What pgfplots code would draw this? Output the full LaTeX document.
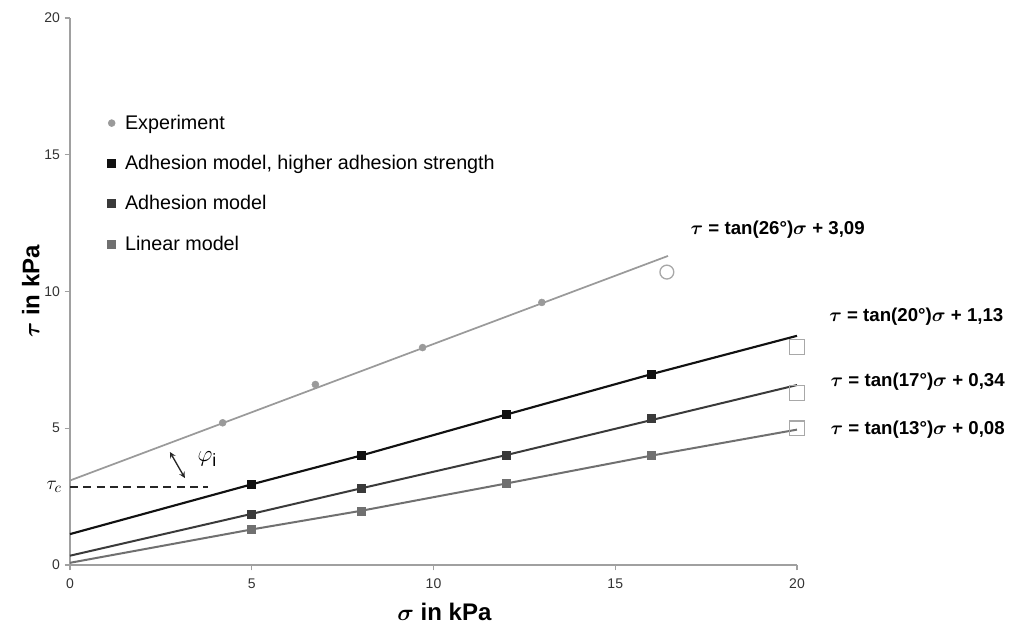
\documentclass[border=0pt]{standalone}
\usepackage{amsmath}
\usepackage{fontspec}
\setmainfont{Liberation Sans}
\usepackage{pgfplots}
\pgfplotsset{compat=1.18}
\definecolor{expgray}{HTML}{9A9A9A}
\definecolor{hiblack}{HTML}{111111}
\definecolor{adgray}{HTML}{3A3A3A}
\definecolor{lingray}{HTML}{707070}
\definecolor{axgray}{HTML}{A0A0A0}
\definecolor{opengray}{HTML}{A8A8A8}
\begin{document}
\begin{tikzpicture}
\begin{axis}[
  scale only axis, width=545.25pt, height=410.25pt,
  xmin=0, xmax=20, ymin=0, ymax=20,
  axis x line=bottom, axis y line=left,
  axis line style={draw=axgray, line width=1.5pt},
  every outer x axis line/.append style={-},
  every outer y axis line/.append style={-},
  xtick={0,5,10,15,20}, ytick={0,5,10,15,20},
  tick align=outside, major tick length=4pt,
  tick style={draw=axgray, line width=1pt},
  ticklabel style={font=\fontsize{10.5}{12}\selectfont, text=black!80},
  xticklabel style={yshift=-3pt},
  /pgf/number format/assume math mode=true,
  clip=false,
  xlabel={$\boldsymbol{\sigma}$ in kPa},
  ylabel={$\boldsymbol{\tau}$ in kPa},
  xlabel style={font=\bfseries\fontsize{18}{21}\selectfont, at={(axis description cs:0.515,-0.086)}, anchor=center},
  ylabel style={font=\bfseries\fontsize{18}{21}\selectfont, at={(axis description cs:-0.054,0.5)}, anchor=center},
  legend cell align=left,
  legend style={draw=none, fill=none, at={(0.046,0.833)}, anchor=north west,
    font=\fontsize{14.8}{17}\selectfont, row sep=14pt},
]
\addplot[expgray, line width=1.3pt, forget plot] coordinates {(0,3.09) (16.45,11.3)};
\addplot[hiblack, line width=1.6pt, forget plot] coordinates {(0,1.13) (5,2.95) (8,4.0) (12,5.5) (16,6.98) (20,8.38)};
\addplot[adgray, line width=1.5pt, forget plot] coordinates {(0,0.34) (5,1.87) (8,2.8) (12,4.02) (16,5.3) (20,6.58)};
\addplot[lingray, line width=1.5pt, forget plot] coordinates {(0,0.08) (5,1.3) (8,1.98) (12,2.98) (16,4.0) (20,4.95)};
\addplot[black!85, line width=1.3pt, dash pattern=on 6pt off 4pt, forget plot] coordinates {(0,2.85) (3.8,2.85)};
\addplot[only marks, mark=*, mark size=2.6pt, color=expgray, mark options={fill=expgray}] coordinates {(4.2,5.2) (6.75,6.6) (9.7,7.95) (12.98,9.6)};
\addlegendentry{\hspace{5pt}Experiment}
\addplot[only marks, mark=square*, mark size=3pt, color=hiblack, mark options={fill=hiblack}] coordinates {(5,2.95) (8,4.0) (12,5.5) (16,6.98)};
\addlegendentry{\hspace{5pt}Adhesion model, higher adhesion strength}
\addplot[only marks, mark=square*, mark size=3pt, color=adgray, mark options={fill=adgray}] coordinates {(5,1.87) (8,2.8) (12,4.02) (16,5.35)};
\addlegendentry{\hspace{5pt}Adhesion model}
\addplot[only marks, mark=square*, mark size=3pt, color=lingray, mark options={fill=lingray}] coordinates {(5,1.3) (8,1.98) (12,2.98) (16,4.0)};
\addlegendentry{\hspace{5pt}Linear model}
\addplot[only marks, mark=o, mark size=5.2pt, color=opengray, line width=1pt, forget plot] coordinates {(16.42,10.71)};
\addplot[only marks, mark=square, mark size=5.5pt, color=opengray, line width=1pt, forget plot] coordinates {(20,7.97) (20,6.29) (20,5.0)};
\end{axis}
% annotations (axis box: 27.2625pt per x unit, 20.5125pt per y unit, origin at (0,0))
\node[anchor=west, font=\bfseries\fontsize{14}{17}\selectfont] at (462pt,251.2pt) {$\boldsymbol{\tau}$ = tan(26°)$\boldsymbol{\sigma}$ + 3,09};
\node[anchor=west, font=\bfseries\fontsize{14}{17}\selectfont] at (566pt,186pt) {$\boldsymbol{\tau}$ = tan(20°)$\boldsymbol{\sigma}$ + 1,13};
\node[anchor=west, font=\bfseries\fontsize{14}{17}\selectfont] at (567pt,137.2pt) {$\boldsymbol{\tau}$ = tan(17°)$\boldsymbol{\sigma}$ + 0,34};
\node[anchor=west, font=\bfseries\fontsize{14}{17}\selectfont] at (567pt,101.3pt) {$\boldsymbol{\tau}$ = tan(13°)$\boldsymbol{\sigma}$ + 0,08};
\node[anchor=east, font=\fontsize{15}{17}\selectfont, inner sep=0pt] at (-6pt,58.46pt) {$\tau_c$};
\node[font=\fontsize{19}{22}\selectfont] at (103pt,79.5pt) {$\varphi_{\mathrm{i}}$};
\draw[stealth-stealth, line width=1pt, black!85] (74.97pt,84.72pt) -- (86.15pt,65.23pt);
\pgfresetboundingbox
\path[use as bounding box] (-52.5pt,-52.5pt) rectangle (709.5pt,423.75pt);
\end{tikzpicture}
\end{document}
